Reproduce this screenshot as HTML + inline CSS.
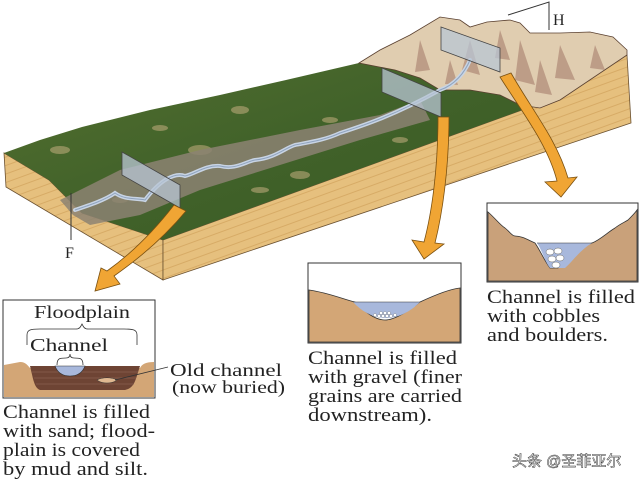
<!DOCTYPE html>
<html><head><meta charset="utf-8"><style>
html,body{margin:0;padding:0;background:#fff;}
svg{display:block;}
text{font-family:"Liberation Serif",serif;fill:#222;}
</style></head><body>
<svg width="640" height="480" viewBox="0 0 640 480" xmlns="http://www.w3.org/2000/svg">
<defs>
<pattern id="stripes" width="8" height="8" patternUnits="userSpaceOnUse" patternTransform="rotate(-20)">
<rect width="8" height="8" fill="#e6c07e"/><rect y="5" width="8" height="1" fill="#d7ab66"/>
</pattern>
<linearGradient id="grass" x1="0" y1="0" x2="1" y2="1">
<stop offset="0" stop-color="#55702f"/><stop offset="0.5" stop-color="#41622a"/><stop offset="1" stop-color="#385a22"/>
</linearGradient>
</defs>

<polygon points="4,153 49,180 82,213 163,240 163,280 6,187" fill="url(#stripes)" stroke="#6a5030" stroke-width="0.8"/>
<polygon points="163,240 522,110 627,55 631,123 163,280" fill="url(#stripes)" stroke="#6a5030" stroke-width="0.8"/>
<polygon points="4,153 40,140 82,127 150,110 220,95 286,80 359,63 440,40 540,60 560,100 522,110 163,240 82,213 49,180" fill="url(#grass)"/>
<g fill="#b9a878" opacity="0.6">
<ellipse cx="60" cy="150" rx="10" ry="4"/><ellipse cx="200" cy="150" rx="12" ry="5"/><ellipse cx="240" cy="110" rx="9" ry="4"/>
<ellipse cx="300" cy="175" rx="10" ry="4"/><ellipse cx="330" cy="120" rx="8" ry="3"/><ellipse cx="160" cy="128" rx="8" ry="3"/>
<ellipse cx="260" cy="190" rx="9" ry="3"/><ellipse cx="400" cy="140" rx="8" ry="3"/><ellipse cx="120" cy="200" rx="8" ry="3"/>
</g>
<polygon points="60,200 120,170 200,150 300,130 380,115 420,100 430,120 360,140 280,165 200,190 140,215 90,225 73,215" fill="#8c8272" opacity="0.85"/>
<polygon points="359,63 380,50 410,35 440,17 460,20 470,27 487,22 510,20 520,23 530,33 560,33 590,32 613,37 627,50 627,55 560,100 540,108 520,105 500,95 470,90 440,90 420,78 395,70" fill="#e0cdb0" stroke="#5a4030" stroke-width="0.8"/>
<g fill="#9c6e60" opacity="0.5">
<polygon points="420,40 430,70 415,72"/><polygon points="470,40 480,75 462,70"/><polygon points="520,40 535,85 515,80"/>
<polygon points="560,45 575,80 555,78"/><polygon points="595,45 605,70 590,68"/><polygon points="450,60 458,85 445,84"/>
<polygon points="500,30 510,60 495,58"/><polygon points="540,60 552,95 535,92"/>
</g>
<path d="M75,210 C90,205 105,200 115,193 C125,200 135,198 145,200 C160,180 175,172 185,176 C195,174 205,165 220,166 C235,170 245,162 255,160 C275,158 285,148 295,145 C310,142 325,140 340,133 C365,125 395,115 440,90 C455,85 465,72 470,60" fill="none" stroke="#c8d4e4" stroke-width="4" stroke-linecap="round"/>
<path d="M75,210 C90,205 105,200 115,193 C125,200 135,198 145,200 C160,180 175,172 185,176 C195,174 205,165 220,166 C235,170 245,162 255,160 C275,158 285,148 295,145 C310,142 325,140 340,133 C365,125 395,115 440,90 C455,85 465,72 470,60" fill="none" stroke="#8fa3bd" stroke-width="1"/>
<g fill="#b8c6d4" fill-opacity="0.75" stroke="#444" stroke-width="0.8">
<polygon points="122,152 180,185 180,208 122,175"/>
<polygon points="382,68 441,93 441,117 382,92"/>
<polygon points="441,27 500,48 500,72 441,50"/>
</g>
<line x1="71" y1="193" x2="71" y2="240" stroke="#333" stroke-width="1"/>
<text x="65" y="258" font-size="16">F</text>
<polyline points="508,15 549,2 549,30" fill="none" stroke="#333" stroke-width="1"/>
<text x="553" y="25" font-size="16">H</text>

<g fill="#f0a534" stroke="#7a5010" stroke-width="0.8">
<path d="M174,205 L186,211 C162,240 134,262 114,276 L120,284 L95,291 L101,268 L107,271 C128,256 150,236 174,205 Z"/>
<path d="M438,117 L449,117 C449,170 442,215 435,243 L444,244 L424,259 L412,240 L424,242 C432,212 438,168 438,117 Z"/>
<path d="M500,77 L511,73 C532,110 557,140 568,178 L577,177 L561,197 L545,182 L557,181 C548,145 522,112 500,77 Z"/>
</g>

<!-- Panel 1 -->
<rect x="3" y="300" width="152" height="98" fill="#fff" stroke="#333" stroke-width="1"/>
<path d="M4,365 L20,362 C26,362 28,366 30,368 L140,368 C142,364 146,362 154,362 L154,397 L4,397 Z" fill="#d3a676"/>
<path d="M30,366 L140,366 C136,378 135,388 125,390 L40,390 C34,388 33,378 30,366 Z" fill="#6e4434"/>
<g stroke="#8a6050" stroke-width="0.8"><line x1="32" y1="372" x2="138" y2="372"/><line x1="34" y1="378" x2="136" y2="378"/><line x1="36" y1="384" x2="134" y2="384"/></g>
<path d="M55,366 L85,366 C82,374 76,376 70,376 C64,376 58,374 55,366 Z" fill="#a8b8dc" stroke="#333" stroke-width="0.6"/>
<path d="M97,380 C102,377 112,377 117,380 C112,384 102,384 97,380 Z" fill="#e0b890" stroke="#333" stroke-width="0.5"/>
<line x1="115" y1="380" x2="168" y2="367" stroke="#333" stroke-width="0.8"/>
<text x="34" y="318" font-size="18" textLength="96" lengthAdjust="spacingAndGlyphs">Floodplain</text>
<path d="M27,345 L27,335 C27,330 30,329 40,329 L76,329 C80,329 81,326 82,324 C83,326 84,329 88,329 L124,329 C134,329 137,330 137,335 L137,345" fill="none" stroke="#333" stroke-width="0.8"/>
<text x="30" y="351" font-size="18" textLength="78" lengthAdjust="spacingAndGlyphs">Channel</text>
<path d="M57,365 C57,358 60,358 66,358 C69,358 70,356 70,354 C70,356 71,358 74,358 C80,358 83,358 83,365" fill="none" stroke="#333" stroke-width="0.8"/>
<text x="170" y="376" font-size="18" textLength="112" lengthAdjust="spacingAndGlyphs">Old channel</text>
<text x="172" y="393" font-size="18" textLength="113" lengthAdjust="spacingAndGlyphs">(now buried)</text>
<text x="3" y="418" font-size="19" textLength="147" lengthAdjust="spacingAndGlyphs">Channel is filled</text>
<text x="3" y="437" font-size="19" textLength="152" lengthAdjust="spacingAndGlyphs">with sand; flood-</text>
<text x="3" y="456" font-size="19" textLength="137" lengthAdjust="spacingAndGlyphs">plain is covered</text>
<text x="3" y="475" font-size="19" textLength="145" lengthAdjust="spacingAndGlyphs">by mud and silt.</text>

<!-- Panel 2 -->
<rect x="308" y="263" width="153" height="80" fill="#fff" stroke="#333" stroke-width="1"/>
<path d="M309,290 C330,293 345,300 355,302 C365,312 375,320 385,320 C395,320 410,310 420,302 C435,295 450,289 460,288 L460,342 L309,342 Z" fill="#d3a676" stroke="#333" stroke-width="0.8"/>
<path d="M353,302 L420,302 C410,312 398,318 386,318 C374,318 362,312 353,302 Z" fill="#a8b8dc"/>
<line x1="353" y1="302" x2="420" y2="302" stroke="#333" stroke-width="0.6"/>
<g fill="#fff" stroke="#666" stroke-width="0.3"><circle cx="375" cy="315" r="1.5"/><circle cx="379" cy="316" r="1.5"/><circle cx="383" cy="316" r="1.5"/><circle cx="387" cy="316" r="1.5"/><circle cx="391" cy="316" r="1.5"/><circle cx="395" cy="315" r="1.5"/><circle cx="381" cy="313" r="1.5"/><circle cx="385" cy="313" r="1.5"/><circle cx="389" cy="313" r="1.5"/></g>
<text x="308" y="364" font-size="19" textLength="149" lengthAdjust="spacingAndGlyphs">Channel is filled</text>
<text x="308" y="383" font-size="19" textLength="154" lengthAdjust="spacingAndGlyphs">with gravel (finer</text>
<text x="308" y="402" font-size="19" textLength="154" lengthAdjust="spacingAndGlyphs">grains are carried</text>
<text x="308" y="421" font-size="19" textLength="124" lengthAdjust="spacingAndGlyphs">downstream).</text>

<!-- Panel 3 -->
<rect x="487" y="203" width="151" height="79" fill="#fff" stroke="#333" stroke-width="1"/>
<path d="M488,212 C495,218 500,225 505,228 C510,232 512,236 515,236 C522,236 528,240 535,243 C540,250 545,262 550,268 L558,268 C565,262 570,250 592,243 C600,240 608,232 615,228 C620,224 625,222 628,220 C632,216 635,213 637,210 L637,281 L488,281 Z" fill="#c9a17a" stroke="#333" stroke-width="0.8"/>
<path d="M537,243 L592,243 C580,250 572,262 565,268 L550,268 C545,262 542,250 537,243 Z" fill="#a8b8dc"/>
<line x1="537" y1="243" x2="592" y2="243" stroke="#333" stroke-width="0.6"/>
<g fill="#fff" stroke="#666" stroke-width="0.5"><ellipse cx="550" cy="252" rx="4" ry="3"/><ellipse cx="558" cy="251" rx="4" ry="3"/><ellipse cx="552" cy="259" rx="4" ry="3"/><ellipse cx="560" cy="258" rx="4" ry="3"/><ellipse cx="556" cy="265" rx="4" ry="3"/></g>
<text x="487" y="303" font-size="19" textLength="148" lengthAdjust="spacingAndGlyphs">Channel is filled</text>
<text x="487" y="322" font-size="19" textLength="113" lengthAdjust="spacingAndGlyphs">with cobbles</text>
<text x="487" y="341" font-size="19" textLength="121" lengthAdjust="spacingAndGlyphs">and boulders.</text>

<text x="512" y="466" font-size="15" style="font-family:'Liberation Sans','Noto Sans CJK SC',sans-serif;fill:#fff;stroke:#333;stroke-width:0.5">头条 @圣菲亚尔</text>
</svg>
</body></html>
